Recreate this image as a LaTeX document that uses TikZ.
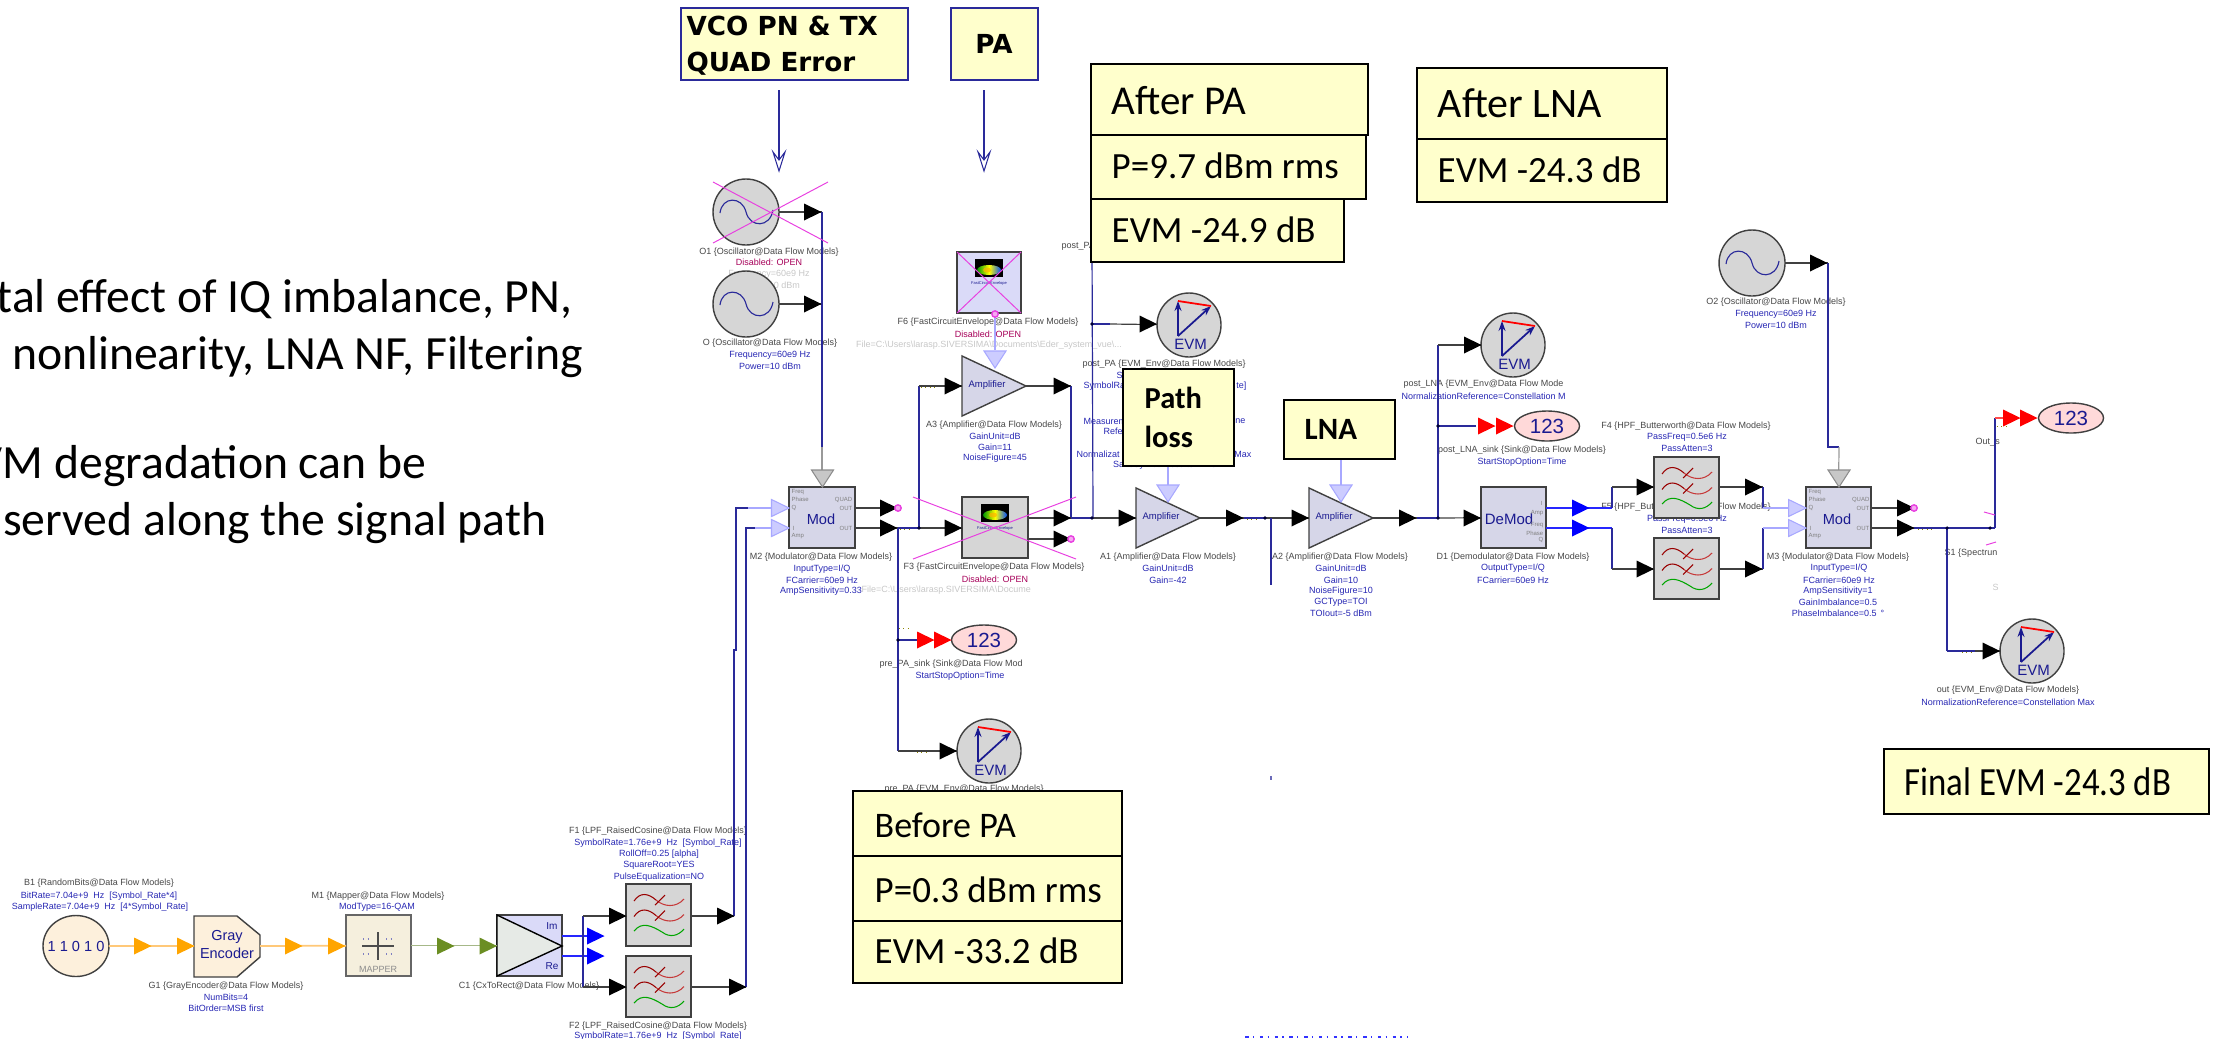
\documentclass[tikz,border=0pt]{standalone}
\usepackage{fontspec}
\setmainfont{Liberation Sans}
\newfontfamily\carl{Carlito}
\newfontfamily\carln{Carlito}[FakeStretch=0.87]
\newfontfamily\dvs{DejaVu Sans}
\usetikzlibrary{arrows.meta,shapes.geometric}
\definecolor{navy}{HTML}{2A2A9A}
\definecolor{ink}{HTML}{1A1A90}
\definecolor{boxgray}{HTML}{D6D6D6}
\definecolor{boxblue}{HTML}{D6D6E8}
\definecolor{lilac}{HTML}{DADAF8}
\definecolor{yel}{HTML}{FFFFCC}
\definecolor{pale}{HTML}{A8A8FF}
\definecolor{palef}{HTML}{CCCCFF}
\definecolor{mag}{HTML}{E840E0}
\definecolor{orng}{HTML}{FFA500}
\definecolor{orngl}{HTML}{FFC878}
\definecolor{oliv}{HTML}{6B8E23}
\definecolor{olivl}{HTML}{A6B888}
\definecolor{lnk}{HTML}{404040}
\definecolor{beige}{HTML}{F5EFDD}
\definecolor{cream}{HTML}{FDF0DC}
\newcommand\pxf[1]{\pgfmathsetmacro\pxs{#1*0.2845}\fontsize{\pxs}{\pxs}\selectfont}
\newcount\lc
\newcommand\tl[4]{\global\advance\lc by 1 \node[#1] (t\the\lc) at (#2,#3) {#4};}
\newcommand\bx[6]{\pgfmathsetmacro\bw{#4-#2}\pgfmathsetmacro\bh{#5-#3}\pgfmathsetmacro\bcx{(#2+#4)/2}\pgfmathsetmacro\bcy{(#3+#5)/2}%
 \node[#6,rectangle,inner sep=0pt,outer sep=0pt,minimum width=\bw*0.1mm,minimum height=\bh*0.1mm] (#1) at (\bcx,\bcy) {};}
% solid port triangle: x of base, y, colour
\newcommand\tri[3]{\fill[#3] (#1,#2-8.5) -- (#1+17.5,#2) -- (#1,#2+8.5) -- cycle;}
\newcommand\ptri[2]{\filldraw[fill=palef,draw=pale,line width=.3pt] (#1,#2-8.5) -- (#1+17.5,#2) -- (#1,#2+8.5) -- cycle;}
\newcommand\dntri[4]{\filldraw[fill=#3,draw=#4,line width=.3pt] (#1-11,#2-17) -- (#1,#2) -- (#1+11,#2-17) -- cycle;}
\newcommand\pdot[2]{\filldraw[fill=mag!45,draw=mag,line width=.4pt] (#1,#2) circle (3.2);}
\newcommand\jd[2]{\fill[black!80!blue] (#1,#2) circle (1.8);}
\newcommand\gm[3]{\draw[olive,line width=.25pt,densely dotted] (#1,#3) -- (#2,#3);}
\newcommand\osc[3]{\node[circ,minimum size=66*0.1mm] (#1) at (#2,#3) {};
 \begin{scope}[shift={(#2,#3)}]\draw[navy,line width=.32pt] (-26,1) .. controls (-24,-16) and (-4,-16) .. (0,0) .. controls (4,16) and (24,16) .. (27,-2);\end{scope}}
\newcommand\evm[3]{\node[circ,minimum size=64*0.1mm] (#1) at (#2,#3) {};
 \begin{scope}[shift={(#2,#3)}]
 \draw[ink,line width=.5pt,-{Stealth[length=1mm,width=.7mm]}] (-11,11) -- (-11,-24);
 \draw[ink,line width=.5pt,-{Stealth[length=1mm,width=.7mm]}] (-11,11) -- (22,-19);
 \draw[red,line width=.5pt] (-11,-24) -- (22,-19);
 \node[symtxt,font=\pxf{15}] (#1t) at (1.5,19) {EVM};
 \end{scope}}
\newcommand\sink[3]{\node[ell,minimum width=65*0.1mm,minimum height=30*0.1mm] (#1) at (#2,#3) {};
 \node[symtxt,font=\pxf{20.5}] (#1t) at (#2,#3) {123};}
\newcommand\amp[3]{% name, left x, centre y
 \filldraw[fill=boxblue,draw=lnk,line width=.4pt] (#2,#3-30) -- (#2+64,#3) -- (#2,#3+30) -- cycle;
 \coordinate (#1in) at (#2,#3); \coordinate (#1out) at (#2+64,#3);
 \node[symtxt,font=\pxf{9.5}] (#1t) at (#2+25,#3-1) {Amplifier};}
\newcommand\filt[5]{\bx{#1}{#2}{#3}{#4}{#5}{gbox}
 \begin{scope}[shift={(#2,#3)}]
 \foreach \dy in {0,15.5}{
 \draw[red!60!black,line width=.3pt] (8,17+\dy) .. controls (14,8+\dy) and (22,9+\dy) .. (30,16+\dy);
 \draw[red!55!gray,line width=.3pt] (30,16+\dy) .. controls (38,23+\dy) and (50,24+\dy) .. (58,15+\dy);
 \draw[red!60!black,line width=.3pt] (29,21+\dy) -- (39,11+\dy);}
 \draw[green!65!black,line width=.3pt] (8,47) .. controls (16,37) and (26,42) .. (36,48) .. controls (44,54) and (52,52) .. (58,45);
 \end{scope}}
\newcommand\modp[1]{%
 \tl{pt,anchor=west}{#1+2}{492}{Freq}\tl{pt,anchor=west}{#1+2}{499}{Phase}\tl{pt,anchor=west}{#1+2}{508}{Q}\tl{pt,anchor=west}{#1+2}{528}{I}\tl{pt,anchor=west}{#1+2}{536}{Amp}
 \tl{pt,anchor=east}{#1+64}{500}{QUAD}\tl{pt,anchor=east}{#1+64}{508}{OUT}\tl{pt,anchor=east}{#1+64}{528}{OUT}}
\newcommand\fce[2]{% centre x, top of dark picture
 \begin{scope}[shift={(#1,#2)}]
 \fill[black] (-14,0) rectangle (14,18);
 \shade[left color=green!60!black,right color=blue!70!cyan,middle color=yellow] (0,11) ellipse (12 and 5);
 \fill[orange!60!yellow,opacity=.7] (-2,11) ellipse (4 and 2.5);
 \node[inner sep=0pt,text=ink,font=\pxf{4}] (fc#1) at (0,24) {FastCircuitEnvelope};
 \end{scope}}
\tikzset{
 x=0.1mm,y=-0.1mm,
 nm/.style={inner sep=0pt,text=black!72,font=\pxf{9}},
 pr/.style={inner sep=0pt,text=blue!65!black!85,font=\pxf{9}},
 dis/.style={inner sep=0pt,text=violet!70!red,font=\pxf{9}},
 gr/.style={inner sep=0pt,text=black!22,font=\pxf{9}},
 pt/.style={inner sep=0pt,text=black!50,font=\pxf{6}},
 symtxt/.style={inner sep=0pt,text=ink},
 circ/.style={circle,inner sep=0pt,outer sep=0pt,fill=boxgray,draw=lnk,line width=.4pt},
 ell/.style={ellipse,inner sep=0pt,outer sep=0pt,fill=red!15,draw=lnk,line width=.4pt},
 gbox/.style={fill=boxgray,draw=lnk,line width=.45pt},
 bbox/.style={fill=boxblue,draw=lnk,line width=.45pt},
 ybox/.style={fill=yel,draw=black,line width=.5pt},
 nbox/.style={fill=yel,draw=navy,line width=.38pt},
 wb/.style={navy,line width=.34pt},
 wk/.style={lnk,line width=.34pt},
 wp/.style={pale,line width=.34pt},
 wg/.style={black!40,line width=.34pt},
 wbl/.style={blue!85,line width=.4pt},
 wo/.style={orngl,line width=.5pt},
 wv/.style={olivl,line width=.5pt},
 wr/.style={red!70,line width=.34pt},
 xm/.style={mag,line width=.28pt},
 ctx/.style={inner sep=0pt,anchor=base west,text=black},
}
\begin{document}
\begin{tikzpicture}
\useasboundingbox (0,0) rectangle (2219,1038);
\clip (0,0) rectangle (2219,1038);
%%%%% left text
\tl{ctx,anchor=base east,font={\carl\pxf{47.7}}}{573}{312}{tal effect of IQ imbalance, PN,}
\tl{ctx,anchor=base east,font={\carl\pxf{47.7}}}{584}{369}{nonlinearity, LNA NF, Filtering}
\tl{ctx,anchor=base east,font={\carl\pxf{47.7}}}{427}{478}{VM degradation can be}
\tl{ctx,anchor=base east,font={\carl\pxf{47.7}}}{547}{535}{served along the signal path}
%%%%% labels under everything
\tl{nm}{99}{883}{B1 \{RandomBits@Data Flow Models\}}
\tl{pr}{99}{896}{BitRate=7.04e+9\ \ Hz\ \ [Symbol\_Rate*4]}
\tl{pr}{100}{907}{SampleRate=7.04e+9\ \ Hz\ \ [4*Symbol\_Rate]}
\tl{nm}{226}{986}{G1 \{GrayEncoder@Data Flow Models\}}
\tl{pr}{226}{997}{NumBits=4}
\tl{pr}{226}{1008}{BitOrder=MSB first}
\tl{nm}{378}{896}{M1 \{Mapper@Data Flow Models\}}
\tl{pr}{377}{907}{ModType=16-QAM}
\tl{nm}{529}{986}{C1 \{CxToRect@Data Flow Models\}}
\tl{nm}{658}{831}{F1 \{LPF\_RaisedCosine@Data Flow Models\}}
\tl{pr}{658}{843}{SymbolRate=1.76e+9\ \ Hz\ \ [Symbol\_Rate]}
\tl{pr}{659}{854}{RollOff=0.25 [alpha]}
\tl{pr}{659}{865}{SquareRoot=YES}
\tl{pr}{659}{877}{PulseEqualization=NO}
\tl{nm}{658}{1026}{F2 \{LPF\_RaisedCosine@Data Flow Models\}}
\tl{pr}{658}{1036}{SymbolRate=1.76e+9\ \ Hz\ \ [Symbol\_Rate]}
\tl{nm}{769}{252}{O1 \{Oscillator@Data Flow Models\}}
\tl{dis}{769}{262}{Disabled: OPEN}
\tl{gr}{769}{274}{Frequency=60e9 Hz}
\tl{gr}{769}{285}{Power=10 dBm}
\tl{nm}{770}{343}{O \{Oscillator@Data Flow Models\}}
\tl{pr}{770}{355}{Frequency=60e9 Hz}
\tl{pr}{770}{366}{Power=10 dBm}
\tl{nm}{988}{322}{F6 \{FastCircuitEnvelope@Data Flow Models\}}
\tl{dis}{988}{334}{Disabled: OPEN}
\tl{gr}{989}{345}{File=C:\textbackslash Users\textbackslash larasp.SIVERSIMA\textbackslash Documents\textbackslash Eder\_system\_vue\textbackslash ...}
\tl{nm}{994}{425}{A3 \{Amplifier@Data Flow Models\}}
\tl{pr}{995}{436}{GainUnit=dB}
\tl{pr}{995}{447}{Gain=11}
\tl{pr}{995}{458}{NoiseFigure=45}
\tl{nm,anchor=west}{1061}{246}{post\_PA}
\tl{nm}{1164}{364}{post\_PA \{EVM\_Env@Data Flow Models\}}
\tl{pr,anchor=west}{1116}{375}{S}
\tl{pr,anchor=west}{1083}{386}{SymbolRa}
\tl{pr,anchor=east}{1247}{386}{te]}
\tl{pr,anchor=west}{1083}{421}{Measurem}
\tl{pr,anchor=east}{1246}{421}{ne}
\tl{pr,anchor=west}{1103}{431}{Refe}
\tl{pr,anchor=west}{1076}{454}{Normalizat}
\tl{pr,anchor=east}{1252}{454}{Max}
\tl{pr}{1165}{465}{SaveSymbolResults=YES}
\tl{gr,anchor=west}{861}{590}{File=C:\textbackslash Users\textbackslash larasp.SIVERSIMA\textbackslash Docume}
\tl{nm}{821}{557}{M2 \{Modulator@Data Flow Models\}}
\tl{pr}{822}{569}{InputType=I/Q}
\tl{pr}{822}{580}{FCarrier=60e9 Hz}
\tl{pr}{821}{591}{AmpSensitivity=0.33}
\tl{nm}{994}{567}{F3 \{FastCircuitEnvelope@Data Flow Models\}}
\tl{dis}{995}{579}{Disabled: OPEN}
\tl{nm,anchor=west}{879}{664}{pre\_PA\_sink \{Sink@Data Flow Mod}
\tl{pr}{960}{676}{StartStopOption=Time}
\tl{nm}{964}{789}{pre\_PA \{EVM\_Env@Data Flow Models\}}
\tl{nm}{1168}{557}{A1 \{Amplifier@Data Flow Models\}}
\tl{pr}{1168}{568}{GainUnit=dB}
\tl{pr}{1168}{580}{Gain=-42}
\tl{nm}{1340}{557}{A2 \{Amplifier@Data Flow Models\}}
\tl{pr}{1341}{568}{GainUnit=dB}
\tl{pr}{1341}{580}{Gain=10}
\tl{pr}{1341}{591}{NoiseFigure=10}
\tl{pr}{1341}{602}{GCType=TOI}
\tl{pr}{1341}{613}{TOIout=-5 dBm}
\tl{nm,anchor=west}{1403}{384}{post\_LNA \{EVM\_Env@Data Flow Mode}
\tl{pr,anchor=west}{1401}{396}{NormalizationReference=Constellation M}
\tl{nm}{1522}{450}{post\_LNA\_sink \{Sink@Data Flow Models\}}
\tl{pr}{1522}{462}{StartStopOption=Time}
\tl{nm}{1513}{557}{D1 \{Demodulator@Data Flow Models\}}
\tl{pr}{1513}{568}{OutputType=I/Q}
\tl{pr}{1513}{580}{FCarrier=60e9 Hz}
\tl{nm}{1776}{302}{O2 \{Oscillator@Data Flow Models\}}
\tl{pr}{1776}{314}{Frequency=60e9 Hz}
\tl{pr}{1776}{325}{Power=10 dBm}
\tl{nm}{1686}{426}{F4 \{HPF\_Butterworth@Data Flow Models\}}
\tl{pr}{1687}{437}{PassFreq=0.5e6 Hz}
\tl{pr}{1687}{448}{PassAtten=3}
\tl{nm}{1686}{507}{F5 \{HPF\_Butterworth@Data Flow Models\}}
\tl{pr}{1687}{519}{PassFreq=0.5e6 Hz}
\tl{pr}{1687}{530}{PassAtten=3}
\tl{nm}{1838}{557}{M3 \{Modulator@Data Flow Models\}}
\tl{pr}{1839}{568}{InputType=I/Q}
\tl{pr}{1839}{580}{FCarrier=60e9 Hz}
\tl{pr}{1838}{591}{AmpSensitivity=1}
\tl{pr}{1838}{602}{GainImbalance=0.5}
\tl{pr}{1838}{613}{PhaseImbalance=0.5 \,°}
\tl{nm,anchor=west}{1975}{442}{Out\_s}
\tl{nm,anchor=west}{1944}{553}{S1 \{Spectrun}
\tl{gr,anchor=west}{1992}{587}{S}
\tl{nm}{2008}{690}{out \{EVM\_Env@Data Flow Models\}}
\tl{pr}{2008}{702}{NormalizationReference=Constellation Max}
%%%%% blocks
\node[ellipse,inner sep=0pt,outer sep=0pt,fill=cream,draw=lnk,line width=.4pt,minimum width=66*0.1mm,minimum height=61*0.1mm] (b1) at (76,946) {};
\node[symtxt,font=\pxf{14.6}] (b1t) at (76,946) {1 1 0 1 0};
\coordinate (g1w) at (194,946); \coordinate (g1e) at (260,946);
\filldraw[fill=cream,draw=lnk,line width=.4pt] (194,916) -- (237,916) -- (260,935) -- (260,957) -- (237,977) -- (194,977) -- cycle;
\node[symtxt,font=\pxf{14.5}] (g1a) at (227,937) {Gray};
\node[symtxt,font=\pxf{14.5}] (g1b) at (227,953) {Encoder};
\bx{m1}{346}{915}{411}{976}{fill=beige,draw=black!60,line width=.45pt}
\draw[black!70,line width=.5pt] (362,946) -- (394,946) (378,932) -- (378,960);
\foreach \qx in {363,386}\foreach \qy in {939,954}{\draw[navy!60,line width=.4pt,dash pattern=on .4pt off .9pt] (\qx,\qy) -- (\qx+9,\qy);}
\node[inner sep=0pt,text=black!45,font=\pxf{9}] (m1t) at (378,969) {MAPPER};
\bx{c1}{497}{915}{562}{976}{fill=lilac,draw=lnk,line width=.45pt}
\filldraw[fill=green!8!gray!18,draw=black,line width=.4pt] (497,915) -- (562,946) -- (497,976) -- cycle;
\node[symtxt,font=\pxf{10}] (c1a) at (552,926) {Im};
\node[symtxt,font=\pxf{10}] (c1b) at (552,966) {Re};
\coordinate (c1im) at (562,936); \coordinate (c1re) at (562,956);
\filt{f1}{626}{884}{691}{946}
\filt{f2}{626}{956}{691}{1017}
\bx{m2}{789}{487}{855}{548}{bbox}
\node[symtxt,font=\pxf{14.6},text=ink] (m2t) at (821,519) {Mod};
\modp{789}
\bx{f3}{962}{497}{1028}{558}{gbox}
\fce{995}{504}
\bx{f6}{957}{252}{1021}{313}{fill=lilac,draw=lnk,line width=.45pt}
\fce{989}{259}
\osc{o1}{746}{212}
\osc{o0}{746}{304}
\osc{o2}{1752}{263}
\amp{a3}{962}{386}
\amp{a1}{1136}{518}
\amp{a2}{1309}{518}
\bx{d1}{1481}{487}{1546}{548}{bbox}
\node[symtxt,font=\pxf{15}] (d1t) at (1509,519) {DeMod};
\tl{pt,anchor=east}{1544}{503}{I}\tl{pt,anchor=east}{1544}{513}{Amp}\tl{pt,anchor=east}{1544}{525}{Freq}\tl{pt,anchor=east}{1544}{533}{Phase}\tl{pt,anchor=east}{1544}{540}{Q}
\filt{f4}{1654}{457}{1719}{518}
\filt{f5}{1654}{538}{1719}{599}
\bx{m3}{1806}{487}{1871}{548}{bbox}
\node[symtxt,font=\pxf{14.6}] (m3t) at (1837,519) {Mod};
\modp{1806}
\evm{evmpost}{1189}{325}
\evm{evmpre}{989}{751}
\evm{evmlna}{1513}{345}
\evm{evmout}{2032}{651}
\sink{skpre}{984}{640}
\sink{sklna}{1547}{426}
\sink{skout}{2071}{418}
%%%%% named junctions
\coordinate (w1) at (822,212); \coordinate (w2) at (822,304); \coordinate (w3) at (822,447);
\coordinate (j1) at (583,916); \coordinate (j2) at (583,987);
\coordinate (f1o) at (734,916); \coordinate (f2o) at (746,987);
\coordinate (m2a) at (734,650); \coordinate (m2b) at (736,650); \coordinate (m2c) at (736,508); \coordinate (m2d) at (746,528);
\coordinate (m2p) at (748,508); \coordinate (m2q) at (755,528);
\coordinate (m2i) at (789,508); \coordinate (m2j) at (789,528);
\coordinate (m2o1) at (855,508); \coordinate (m2o2) at (855,528);
\coordinate (p1) at (897,508); \coordinate (p2) at (898,528); \coordinate (p3) at (919,528);
\coordinate (p4) at (919,386); \coordinate (p5) at (898,640); \coordinate (p6) at (898,751);
\coordinate (f3o1) at (1028,518); \coordinate (f3o2) at (1028,539); \coordinate (q1) at (1071,518); \coordinate (q2) at (1071,386); \coordinate (q3) at (1071,539);
\coordinate (q4) at (1093,518); \coordinate (q5) at (1092,250); \coordinate (q6) at (1092,324);
\coordinate (r1) at (1244,518); \coordinate (r2) at (1265,518); \coordinate (r3) at (1271,518); \coordinate (r4) at (1271,585);
\coordinate (s1) at (1417,518); \coordinate (s2) at (1438,518); \coordinate (s3) at (1438,345); \coordinate (s4) at (1438,426);
\coordinate (d1a) at (1546,508); \coordinate (d1b) at (1546,528);
\coordinate (u1) at (1612,508); \coordinate (u2) at (1612,487); \coordinate (u3) at (1612,528); \coordinate (u4) at (1612,569);
\coordinate (v1) at (1763,487); \coordinate (v2) at (1763,508); \coordinate (v3) at (1763,569); \coordinate (v4) at (1763,528);
\coordinate (m3i) at (1806,508); \coordinate (m3j) at (1806,528);
\coordinate (w5) at (1828,263); \coordinate (w6) at (1828,447); \coordinate (w7) at (1839,447);
\coordinate (m3o1) at (1871,508); \coordinate (m3o2) at (1871,528);
\coordinate (x1) at (1914,528); \coordinate (x2) at (1947,528); \coordinate (x3) at (1995,528); \coordinate (x4) at (1995,418); \coordinate (x5) at (1947,651);
%%%%% connectors
\draw[wo] (b1) -- (g1w);
\draw[wo] (g1e) -- (m1);
\draw[wv] (m1) -- (c1);
\draw[wbl] (c1im) -- ++(28,0);
\draw[wbl] (c1re) -- ++(28,0);
\draw[wb] (j1) -- (j2);
\draw[wk] (j1) -- (f1.west |- j1);
\draw[wk] (j2) -- (f2.west |- j2);
\draw[wk] (f1.east |- f1o) -- (f1o);
\draw[wk] (f2.east |- f2o) -- (f2o);
\draw[wb] (f1o) -- (m2a) -- (m2b) -- (m2c) -- (m2p);
\draw[wb] (f2o) -- (m2d) -- (m2q);
\draw[wp] (m2p) -- (m2i);
\draw[wp] (m2q) -- (m2j);
\draw[wk] (o1) -- (w1);
\draw[wk] (o0) -- (w2);
\draw[wb] (w1) -- (w3);
\draw[wg] (w3) -- (m2.north);
\draw[wk] (m2o1) -- (p1);
\draw[wk] (m2o2) -- (p2);
\draw[wb] (p2) -- (p3);
\draw[wk] (p3) -- (f3.west |- p3);
\draw[wb] (p3) -- (p4);
\draw[wk] (p4) -- (a3in);
\draw[wb] (p2) -- (p6);
\draw[wk] (p6) -- (evmpre);
\draw[wb] (p5) -- ++(19,0);
\draw[wk] (a3out) -- (q2);
\draw[wb] (q2) -- (q1);
\draw[wk] (f3o1) -- (q1);
\draw[wk] (f3o2) -- (q3);
\draw[wb] (q1) -- (q4);
\draw[wk] (q4) -- (a1in);
\draw[wb] (q4) -- (q5);
\draw[wb] (q6) -- ++(18,0);
\draw[wk] (q6)++(18,0) -- (evmpost);
\draw[wk] (a1out) -- (r1);
\draw[wb] (r1) -- (r2);
\draw[wk] (r2) -- (a2in);
\draw[wb] (r3) -- (r4);
\draw[wk] (a2out) -- (s1);
\draw[wb] (s1) -- (s2);
\draw[wk] (s2) -- (d1);
\draw[wb] (s2) -- (s3);
\draw[wk] (s3) -- (evmlna);
\draw[wb] (s4) -- ++(38,0);
\draw[wbl] (d1a) -- (u1);
\draw[wbl] (d1b) -- (u3);
\draw[wb] (u1) -- (u2);
\draw[wb] (u3) -- (u4);
\draw[wk] (u2) -- (f4.west |- u2);
\draw[wk] (u4) -- (f5.west |- u4);
\draw[wk] (f4.east |- v1) -- (v1);
\draw[wk] (f5.east |- v3) -- (v3);
\draw[wb] (v1) -- (v2);
\draw[wb] (v3) -- (v4);
\draw[wp] (v2) -- (m3i);
\draw[wp] (v4) -- (m3j);
\draw[wk] (o2) -- (w5);
\draw[wb] (w5) -- (w6) -- (w7);
\draw[wg] (w7) -- (m3.north);
\draw[wk] (m3o1) -- (1914,508);
\draw[wk] (m3o2) -- (x1);
\draw[wb] (x1) -- (x3);
\draw[wb] (x3) -- (x4);
\draw[wr] (x4) -- ++(10,0);
\draw[wb] (x2) -- (x5);
\draw[wb] (x5) -- ++(28,0);
\draw[wk] (x5)++(28,0) -- (evmout);
\draw[navy,line width=.3pt] (779,90) -- (779,170);
\draw[navy,line width=.3pt] (984,90) -- (984,170);
\draw[pale,line width=.34pt] (995,317) -- (995,350);
\draw[pale,line width=.34pt] (1168,466) -- (1168,485);
\draw[pale,line width=.34pt] (1341,459) -- (1341,485);
%%%%% open arrows under captions
\filldraw[fill=white,draw=navy,line width=.3pt] (773,152) -- (779,171) -- (785,152) -- (779,160) -- cycle;
\filldraw[fill=white,draw=navy,line width=.3pt] (978,152) -- (984,171) -- (990,152) -- (984,160) -- cycle;
%%%%% port triangles
\tri{134}{946}{orng}\tri{177}{946}{orng}\tri{285}{946}{orng}\tri{328}{946}{orng}
\tri{437}{946}{oliv}\tri{479.5}{946}{oliv}
\tri{587}{936}{blue}\tri{587}{956}{blue}
\tri{609}{916}{black}\tri{609}{987}{black}\tri{717}{916}{black}\tri{729}{987}{black}
\ptri{771.5}{508}\ptri{771.5}{528}
\tri{804}{212}{black}\tri{804}{304}{black}
\dntri{822.5}{487}{black!22}{black!45}
\tri{880}{508}{black}\tri{880}{528}{black}\pdot{898}{508}
\tri{944.5}{528}{black}\tri{944.5}{386}{black}
\tri{1053.5}{386}{black}\tri{1053.5}{518}{black}\tri{1053.5}{539}{black}\pdot{1071}{539}
\tri{917}{640}{red}\tri{934}{640}{red}
\tri{939.5}{751}{black}
\tri{1139.5}{324}{black}
\tri{1118.5}{518}{black}\tri{1226}{518}{black}\tri{1291.5}{518}{black}\tri{1399}{518}{black}
\tri{1464}{345}{black}\tri{1478}{426}{red}\tri{1496}{426}{red}
\tri{1463.5}{518}{black}
\tri{1572}{508}{blue}\tri{1572}{528}{blue}
\tri{1636.5}{487}{black}\tri{1636.5}{569}{black}\tri{1745}{487}{black}\tri{1745}{569}{black}
\ptri{1788.5}{508}\ptri{1788.5}{528}
\tri{1810}{263}{black}
\dntri{1839}{487}{black!22}{black!45}
\tri{1897}{508}{black}\pdot{1914}{508}\tri{1897}{528}{black}
\tri{2003}{418}{red}\tri{2020}{418}{red}
\tri{1982.5}{651}{black}
\dntri{995}{368}{palef}{pale}
\dntri{1168}{502}{palef}{pale}
\dntri{1341}{502}{palef}{pale}
\pdot{995}{314}
%%%%% junction dots and tiny tags
\jd{919}{528}\jd{898}{640}\jd{1092}{324}\jd{1092}{518}\jd{1265}{518}\jd{1438}{518}\jd{1438}{426}\jd{1947}{528}\jd{1990}{528}
\gm{900}{913}{529}\gm{899}{911}{628}\gm{917}{929}{752}\gm{921}{935}{387}\gm{1247}{1260}{519}\gm{1918}{1932}{529}\gm{1997}{2010}{426}\gm{1962}{1975}{652}
%%%%% stray marks along the lower edge
\fill[navy!70] (1270,776) rectangle (1272,780);
\draw[blue!80,line width=.3pt,dash pattern=on 1pt off 1.2pt on .4pt off 1.6pt] (1245,1037) -- (1408,1037);
%%%%% disabling crosses
\draw[xm] (713,182) -- (828,243) (713,243) -- (828,182);
\draw[xm] (957,252) -- (1021,313) (957,313) -- (1021,252);
\draw[xm] (913,497) -- (1076,559) (913,559) -- (1076,497);
\draw[xm] (1984,512) -- (1995,515) (1986,545) -- (1996,542);
%%%%% captions
\bx{vco}{681}{8}{908}{80}{nbox}
\tl{ctx,font={\dvs\bfseries\pxf{26.2}}}{686}{35}{VCO PN \& TX}
\tl{ctx,font={\dvs\bfseries\pxf{26.2}}}{686}{71}{QUAD Error}
\bx{pa}{951}{8}{1038}{80}{nbox}
\tl{ctx,anchor=base,font={\dvs\bfseries\pxf{26.2}}}{994}{53}{PA}
\bx{apa1}{1091}{64}{1368}{135}{ybox}
\bx{apa2}{1091}{135}{1366}{199}{ybox}
\bx{apa3}{1091}{199}{1344}{262}{ybox}
\tl{ctx,font={\carl\pxf{41}}}{1111}{114}{After PA}
\tl{ctx,font={\carl\pxf{37}}}{1111}{178}{P=9.7 dBm rms}
\tl{ctx,font={\carl\pxf{37}}}{1111}{242}{EVM -24.9 dB}
\bx{aln1}{1417}{68}{1667}{139}{ybox}
\bx{aln2}{1417}{139}{1667}{202}{ybox}
\tl{ctx,font={\carl\pxf{42}}}{1437}{117}{After LNA}
\tl{ctx,font={\carl\pxf{37}}}{1437}{182}{EVM -24.3 dB}
\bx{pl}{1123}{369}{1234}{466}{ybox}
\tl{ctx,font={\carl\bfseries\pxf{30.5}}}{1144}{408}{Path}
\tl{ctx,font={\carl\bfseries\pxf{30.5}}}{1144}{447}{loss}
\bx{lna}{1284}{400}{1395}{459}{ybox}
\tl{ctx,font={\carl\bfseries\pxf{31}}}{1304}{439}{LNA}
\bx{bpa1}{853}{791}{1122}{856}{ybox}
\bx{bpa2}{853}{856}{1122}{921}{ybox}
\bx{bpa3}{853}{921}{1122}{983}{ybox}
\tl{ctx,font={\carl\pxf{36}}}{874}{837}{Before PA}
\tl{ctx,font={\carl\pxf{37}}}{874}{902}{P=0.3 dBm rms}
\tl{ctx,font={\carl\pxf{37}}}{874}{963}{EVM -33.2 dB}
\bx{fin}{1884}{749}{2209}{814}{ybox}
\tl{ctx,font={\carln\pxf{40}}}{1904}{795}{Final EVM -24.3 dB}
\end{tikzpicture}
\end{document}
